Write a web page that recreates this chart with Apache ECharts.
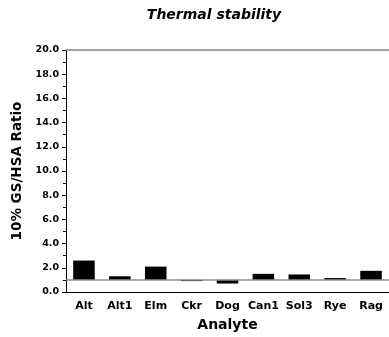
<!DOCTYPE html>
<html><head><meta charset="utf-8">
<script src="https://cdn.jsdelivr.net/npm/echarts@6/dist/echarts.min.js"></script>
<style>html,body{margin:0;padding:0;background:#fff}#c{width:389px;height:337px}</style>
</head><body><div id="c"></div>
<script>
var categories = ['Alt','Alt1','Elm','Ckr','Dog','Can1','Sol3','Rye','Rag'];
var ratios = [2.6, 1.3, 2.1, 0.9, 0.7, 1.5, 1.45, 1.15, 1.75];
var yTicks = [0, 2, 4, 6, 8, 10, 12, 14, 16, 18, 20];
var baseline = 1.0;

var baseVals = ratios.map(function(v){ return Math.min(v, baseline); });
var barVals = ratios.map(function(v){ return Math.abs(v - baseline); });

var F = 'DejaVu Sans, Verdana, sans-serif';
var chart = echarts.init(document.getElementById('c'));
chart.setOption({
  animation: false,
  title: { text: 'Thermal stability', left: 209, top: 3, textAlign: 'center',
    textStyle: { fontFamily: F, fontSize: 14, fontWeight: 'bold', fontStyle: 'italic', color: '#000' } },
  grid: { left: 66, right: -4, top: 50, bottom: 43, containLabel: false },
  xAxis: {
    type: 'category', data: categories,
    name: 'Analyte', nameLocation: 'middle', nameGap: 26,
    nameTextStyle: { fontFamily: F, fontSize: 14, fontWeight: 'bold', color: '#000' },
    axisLine: { lineStyle: { color: '#000', width: 1 } },
    axisTick: { alignWithLabel: true, length: 5, lineStyle: { color: '#000' } },
    axisLabel: { fontFamily: F, fontSize: 11, fontWeight: 'bold', color: '#000', margin: 9, interval: 0 }
  },
  yAxis: {
    type: 'value', min: 0, max: 20, interval: 2,
    name: '10% GS/HSA Ratio', nameLocation: 'middle', nameGap: 38,
    nameTextStyle: { fontFamily: F, fontSize: 13.5, fontWeight: 'bold', color: '#000' },
    axisLine: { show: true, lineStyle: { color: '#000', width: 1 } },
    axisTick: { show: true, length: 4, lineStyle: { color: '#000' } },
    minorTick: { show: true, splitNumber: 2, length: 3, lineStyle: { color: '#000' } },
    splitLine: { show: false },
    axisLabel: { fontFamily: F, fontSize: 9.5, fontWeight: 'bold', color: '#000', margin: 7,
      formatter: function(v){ return yTicks.indexOf(v) >= 0 ? v.toFixed(1) : ''; } }
  },
  series: [
    { type: 'bar', stack: 's', data: baseVals, barWidth: '60%', silent: true,
      itemStyle: { color: 'rgba(0,0,0,0)' } },
    { type: 'bar', stack: 's', data: barVals, barWidth: '60%',
      itemStyle: { color: '#000' },
      markLine: { silent: true, symbol: 'none', label: { show: false },
        lineStyle: { color: '#888', type: 'solid', width: 1.5 },
        data: [{ yAxis: baseline }, { yAxis: 20 }] } }
  ]
});
</script></body></html>
